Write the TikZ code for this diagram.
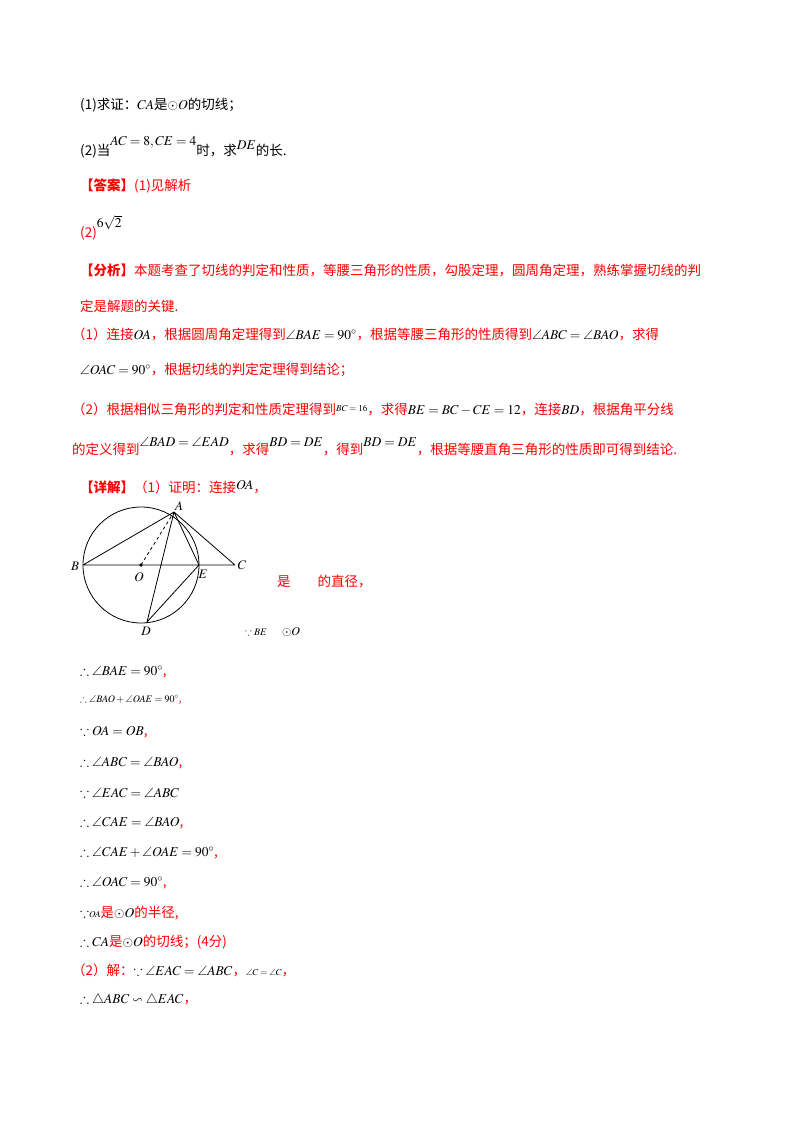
\documentclass[tikz,border=0pt]{standalone}
\usepackage{amsmath,amssymb}
\usepackage{mathptmx}
\usepackage{fontspec}
\setmainfont{Noto Sans CJK SC}
\begin{document}
\begin{tikzpicture}[x=1pt,y=-1pt,
  ln/.style={anchor=west,inner sep=0pt,font=\fontsize{13.5}{15}\selectfont},
  rd/.style={ln,text=red},
  sm/.style={anchor=west,inner sep=0pt,font=\fontsize{10}{12}\selectfont},
  lbl/.style={inner sep=1pt,font=\fontsize{13}{15}\selectfont}]
\useasboundingbox (0,0) rectangle (800,1132);
\fill[white] (0,0) rectangle (800,1132);
\node[ln] (l1) at (80,105) {(1)求证：$CA$是$\odot O$的切线；};
\node[ln] (l2) at (80,147) {(2)当\raisebox{10pt}{$AC=8,CE=4$}时，求\raisebox{6pt}{$DE$}的长.};
\node[rd] (l3) at (80,186) {\textbf{【答案】}(1)见解析};
\node[rd] (l4) at (80,228) {(2)\raisebox{10pt}{\textcolor{black}{$6\sqrt2$}}};
\node[rd] (l5) at (80,270) {\textbf{【分析】}本题考查了切线的判定和性质，等腰三角形的性质，勾股定理，圆周角定理，熟练掌握切线的判};
\node[rd] (l6) at (80,306) {定是解题的关键.};
\node[rd] (l7) at (72,334) {（1）连接\textcolor{black}{$OA$}，根据圆周角定理得到\textcolor{black}{$\angle BAE=90^\circ$}，根据等腰三角形的性质得到\textcolor{black}{$\angle ABC=\angle BAO$}，求得};
\node[rd] (l8) at (80,370) {\textcolor{black}{$\angle OAC=90^\circ$}，根据切线的判定定理得到结论；};
\node[rd] (l9) at (72,409) {（2）根据相似三角形的判定和性质定理得到\textcolor{black}{\raisebox{3pt}{\small$BC=16$}}，求得\textcolor{black}{$BE=BC-CE=12$}，连接\textcolor{black}{$BD$}，根据角平分线};
\node[rd] (l10) at (72,447) {的定义得到\textcolor{black}{\raisebox{8pt}{$\angle BAD=\angle EAD$}}，求得\textcolor{black}{\raisebox{8pt}{$BD=DE$}}，得到\textcolor{black}{\raisebox{8pt}{$BD=DE$}}，根据等腰直角三角形的性质即可得到结论.};
\node[rd] (l11) at (80,487) {\textbf{【详解】}（1）证明：连接\textcolor{black}{\raisebox{3pt}{$OA$}}，};
% figure
\coordinate (O) at (141,565);
\coordinate (A) at (174,512);
\coordinate (B) at (83,565);
\coordinate (E) at (199,565);
\coordinate (C) at (235,565);
\coordinate (D) at (147,622);
\draw[thick] (O) circle (58);
\draw[thick] (B) -- (C) (B) -- (A) -- (C) (A) -- (E) -- (D) -- (A);
\draw[thick,dashed] (O) -- (A);
\fill (O) circle (1.8);
\node[lbl] (nA) at (179,506) {$A$};
\node[lbl] (nB) at (75,566) {$B$};
\node[lbl] (nC) at (242,565) {$C$};
\node[lbl] (nE) at (203,574) {$E$};
\node[lbl] (nO) at (139,577) {$O$};
\node[lbl] (nD) at (146,631) {$D$};
\node[rd] (t1) at (277,582) {是\hspace{2em}的直径，};
\node[sm] (t2) at (245,632) {$\because BE$\hspace{1.5em}\large$\odot O$};
\node[ln] (m1) at (80,672) {$\therefore\angle BAE=90^\circ$\textcolor{red}{,}};
\node[sm] (m2) at (80,700) {$\therefore\angle BAO+\angle OAE=90^\circ$\textcolor{red}{,}};
\node[ln] (m3) at (80,732) {$\because OA=OB$\textcolor{red}{,}};
\node[ln] (m4) at (80,763) {$\therefore\angle ABC=\angle BAO$\textcolor{red}{,}};
\node[ln] (m5) at (80,793) {$\because\angle EAC=\angle ABC$};
\node[ln] (m6) at (80,823) {$\therefore\angle CAE=\angle BAO$\textcolor{red}{,}};
\node[ln] (m7) at (80,853) {$\therefore\angle CAE+\angle OAE=90^\circ$\textcolor{red}{,}};
\node[ln] (m8) at (80,883) {$\therefore\angle OAC=90^\circ$\textcolor{red}{,}};
\node[ln] (m9) at (80,913) {$\because${\small$OA$}\textcolor{red}{是}$\odot O$\textcolor{red}{的半径,}};
\node[ln] (m10) at (80,942) {$\therefore CA$\textcolor{red}{是}$\odot O$\textcolor{red}{的切线；(4分)}};
\node[rd] (m11) at (72,970) {（2）解：\textcolor{black}{$\because\angle EAC=\angle ABC$}，\textcolor{black}{\small$\angle C=\angle C$}，};
\node[ln] (m12) at (80,1000) {$\therefore\triangle ABC\backsim\triangle EAC$\textcolor{red}{，}};
\end{tikzpicture}
\end{document}
